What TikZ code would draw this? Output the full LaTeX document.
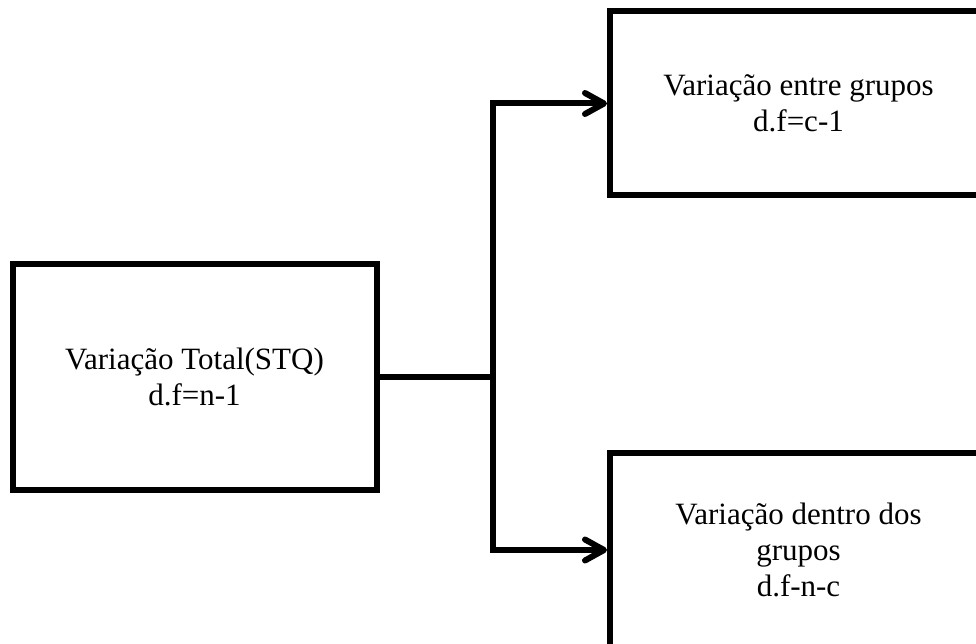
\documentclass[tikz,border=0pt]{standalone}
\usepackage{fontspec}
\setmainfont{Liberation Serif}
\usetikzlibrary{arrows.meta,calc}
\definecolor{LineClr}{rgb}{0,0,0}

\begin{document}
\begin{tikzpicture}[x=1pt,y=-1pt,
  BoxSt/.style={draw=LineClr,line width=6pt,align=center,inner sep=0pt,
    font=\fontsize{31}{36}\selectfont},
  ConnSt/.style={draw=LineClr,line width=6pt},
  ArrSt/.style={ConnSt,-{Straight Barb[length=19pt,width=21pt,round]}}]
\useasboundingbox (0,0) rectangle (976,644);
\clip (0,0) rectangle (976,644);

\node[BoxSt,minimum width=364pt,minimum height=226pt] (total) at (194.5,377)
  {Variação Total(STQ)\\d.f=n-1};
\node[BoxSt,minimum width=377pt,minimum height=184pt] (entre) at (798.5,103.5)
  {Variação entre grupos\\d.f=c-1};
\node[BoxSt,minimum width=377pt,minimum height=195pt] (dentro) at (798.5,550)
  {Variação dentro dos\\grupos\\d.f-n-c};

\coordinate (split) at (493,377);

\draw[ConnSt] (total.east) -- (split);
\draw[ArrSt] (split) |- (entre.west);
\draw[ArrSt] (split) |- (dentro.west);

\end{tikzpicture}
\end{document}
